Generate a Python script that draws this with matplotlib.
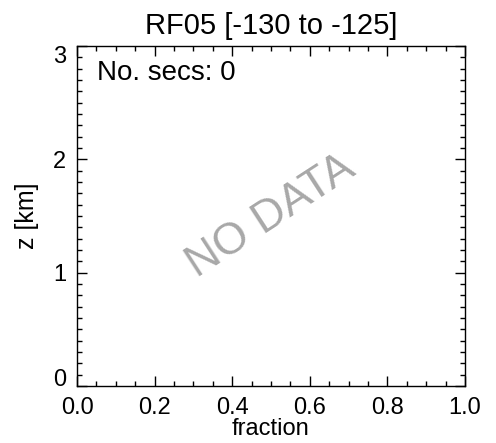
import matplotlib
matplotlib.use('Agg')
import matplotlib.pyplot as plt
from matplotlib.ticker import MultipleLocator

# Chart content
title = 'RF05 [-130 to -125]'
x_label = 'fraction'
y_label = 'z [km]'
x_ticks = [0.0, 0.2, 0.4, 0.6, 0.8, 1.0]
y_ticks = [0, 1, 2, 3]
n_secs = 0
note = 'NO DATA'

plt.rcParams['font.family'] = ['Liberation Sans', 'DejaVu Sans']

fig = plt.figure(figsize=(4.96, 4.43), dpi=100)
ax = fig.add_axes([77 / 496, 1 - 386 / 443, 388 / 496, 340 / 443])

ax.set_xlim(x_ticks[0], x_ticks[-1])
ax.set_ylim(y_ticks[0], y_ticks[-1])
ax.set_xticks(x_ticks)
ax.set_xticklabels(['%.1f' % t for t in x_ticks])
ax.set_yticks(y_ticks)
ax.xaxis.set_minor_locator(MultipleLocator(0.05))
ax.yaxis.set_minor_locator(MultipleLocator(0.1))

ax.tick_params(which='both', direction='in', top=True, right=True,
               labelsize=17, width=1)
ax.tick_params(which='major', length=7)
ax.tick_params(axis='x', which='major', pad=8)
ax.tick_params(axis='y', which='major', pad=8)
ax.tick_params(which='minor', length=3.5)
for s in ax.spines.values():
    s.set_linewidth(1)

# end labels stay inside the axis range, like the original
ylabels = ax.get_yticklabels()
ylabels[0].set_va('baseline')
ylabels[-1].set_va('top')

ax.set_title(title, fontsize=21, pad=9)
ax.set_xlabel(x_label, fontsize=17, labelpad=-1)
ax.set_ylabel(y_label, fontsize=18, labelpad=10)

ax.text(20 / 388, 1 - 14 / 340, 'No. secs: %d' % n_secs, transform=ax.transAxes,
        fontsize=20, va='top', ha='left')
ax.text(0.5, 0.5, note, transform=ax.transAxes, fontsize=32,
        color='#a8a8a8', rotation=33, ha='center', va='center')

fig.savefig('out.png', dpi=100)
